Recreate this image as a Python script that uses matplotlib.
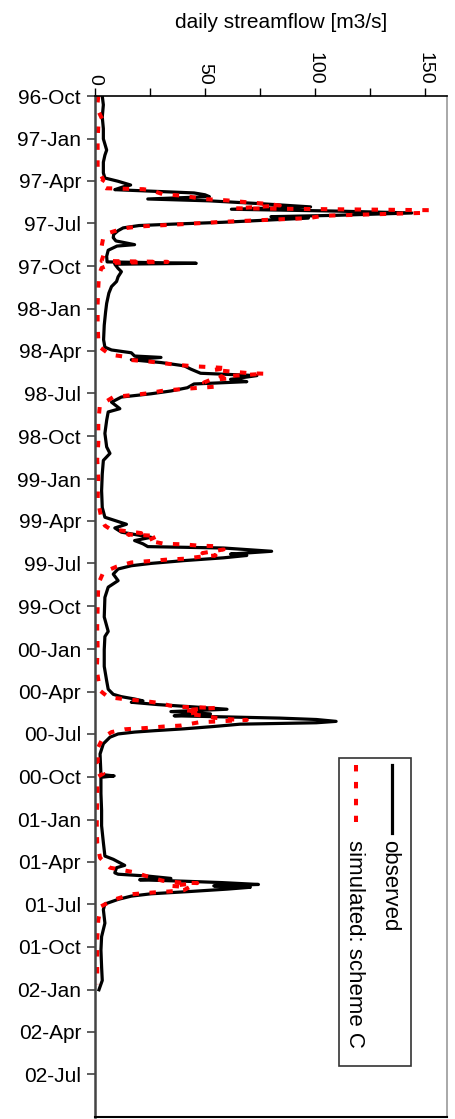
import matplotlib
matplotlib.use("Agg")
import matplotlib.pyplot as plt
import matplotlib.dates as mdates
from matplotlib.ticker import MultipleLocator, FixedLocator
from matplotlib.patches import Rectangle
import pandas as pd

plt.rcParams['font.family'] = ['Liberation Sans', 'DejaVu Sans']

# observed daily streamflow [m3/s]
obs_dates = [
    '1996-10-01', '1996-10-20', '1996-11-15', '1996-12-10', '1997-01-01', '1997-01-25',
    '1997-02-05', '1997-02-20', '1997-03-15', '1997-03-26', '1997-04-02', '1997-04-10',
    '1997-04-14', '1997-04-20', '1997-04-24', '1997-04-27', '1997-05-01', '1997-05-05',
    '1997-05-10', '1997-05-14', '1997-05-20', '1997-05-27', '1997-06-01', '1997-06-05',
    '1997-06-09', '1997-06-14', '1997-06-17', '1997-06-20', '1997-06-25', '1997-06-29',
    '1997-07-03', '1997-07-06', '1997-07-11', '1997-07-17', '1997-07-25', '1997-08-01',
    '1997-08-08', '1997-08-16', '1997-08-19', '1997-08-28', '1997-09-10', '1997-09-22',
    '1997-09-25', '1997-09-27', '1997-10-06', '1997-10-13', '1997-10-24', '1997-11-03',
    '1997-11-14', '1997-11-28', '1997-12-20', '1998-01-08', '1998-02-05', '1998-03-08',
    '1998-03-24', '1998-03-30', '1998-04-05', '1998-04-12', '1998-04-15', '1998-04-20',
    '1998-04-26', '1998-05-03', '1998-05-10', '1998-05-19', '1998-05-24', '1998-06-01',
    '1998-06-06', '1998-06-11', '1998-06-19', '1998-06-26', '1998-07-02', '1998-07-09',
    '1998-07-20', '1998-08-03', '1998-08-10', '1998-08-28', '1998-09-25', '1998-10-24',
    '1998-11-07', '1998-11-22', '1998-12-21', '1999-01-26', '1999-03-03', '1999-03-24',
    '1999-04-01', '1999-04-08', '1999-04-16', '1999-04-25', '1999-05-06', '1999-05-13',
    '1999-05-20', '1999-05-26', '1999-05-29', '1999-06-05', '1999-06-11', '1999-06-14',
    '1999-06-19', '1999-06-25', '1999-07-01', '1999-07-06', '1999-07-13', '1999-07-24',
    '1999-08-07', '1999-08-21', '1999-09-12', '1999-10-24', '1999-11-24', '1999-12-05',
    '2000-01-02', '2000-02-07', '2000-03-09', '2000-03-27', '2000-04-07', '2000-04-12',
    '2000-04-17', '2000-04-21', '2000-04-24', '2000-04-29', '2000-05-04', '2000-05-09',
    '2000-05-14', '2000-05-19', '2000-05-23', '2000-05-28', '2000-05-31', '2000-06-04',
    '2000-06-07', '2000-06-10', '2000-06-15', '2000-06-20', '2000-06-24', '2000-06-27',
    '2000-07-01', '2000-07-08', '2000-07-22', '2000-08-13', '2000-09-26', '2000-09-29',
    '2000-10-02', '2000-11-06', '2000-12-12', '2001-01-14', '2001-02-19', '2001-03-20',
    '2001-03-27', '2001-04-09', '2001-04-14', '2001-04-25', '2001-04-28', '2001-05-02',
    '2001-05-07', '2001-05-10', '2001-05-13', '2001-05-16', '2001-05-20', '2001-05-23',
    '2001-05-26', '2001-05-30', '2001-06-04', '2001-06-09', '2001-06-14', '2001-06-21',
    '2001-07-01', '2001-07-13', '2001-08-11', '2001-09-09', '2001-10-08', '2001-11-13',
    '2001-12-12', '2002-01-01',
]
obs_flow = [
    3.3, 3.8, 3.3, 3.8, 3.8, 5.3,
    4.5, 3.8, 3.8, 4.5, 10.5, 16.2,
    12.8, 9.0, 30.0, 45.0, 50.0, 52.0,
    24.0, 52.0, 75.0, 98.0, 62.0, 110.0,
    144.0, 110.0, 80.0, 97.0, 75.0, 58.0,
    35.0, 20.0, 12.8, 10.5, 8.5, 8.3,
    9.5, 18.0, 10.0, 6.0, 5.3, 5.5,
    46.0, 9.0, 10.5, 12.0, 10.5, 9.8,
    7.5, 6.3, 5.3, 4.8, 4.2, 3.9,
    4.5, 7.5, 16.5, 18.0, 30.0, 16.5,
    30.0, 40.5, 43.5, 48.0, 73.6, 61.6,
    69.0, 45.0, 42.0, 34.5, 25.5, 12.0,
    7.5, 11.3, 6.0, 5.3, 4.5, 5.3,
    6.8, 3.8, 3.3, 3.0, 3.3, 4.5,
    9.8, 14.3, 9.0, 12.0, 25.5, 18.0,
    21.8, 24.0, 58.5, 80.3, 61.6, 69.0,
    58.5, 40.5, 25.5, 16.5, 10.5, 8.3,
    10.5, 6.0, 4.5, 4.2, 6.0, 4.5,
    4.2, 4.2, 5.3, 6.0, 8.3, 12.0,
    18.0, 21.8, 16.5, 28.5, 45.0, 60.0,
    34.5, 52.5, 36.0, 84.0, 100.6, 109.6,
    100.6, 66.0, 54.0, 40.5, 27.0, 18.0,
    10.5, 6.8, 3.8, 2.3, 2.7, 8.7,
    2.7, 2.7, 3.0, 3.0, 3.8, 4.5,
    8.3, 13.5, 9.8, 9.0, 10.5, 24.0,
    34.5, 20.3, 40.5, 57.8, 74.3, 54.0,
    70.6, 60.0, 43.5, 25.5, 16.5, 10.5,
    4.5, 3.8, 4.5, 3.0, 2.7, 3.0,
    3.3, 1.8,
]

# simulated streamflow, scheme C
sim_dates = [
    '1996-10-01', '1996-10-15', '1996-11-05', '1996-11-25', '1996-12-05', '1997-01-01',
    '1997-02-01', '1997-03-05', '1997-03-30', '1997-04-10', '1997-04-17', '1997-04-19',
    '1997-04-22', '1997-04-30', '1997-05-03', '1997-05-06', '1997-05-10', '1997-05-13',
    '1997-05-17', '1997-05-20', '1997-05-24', '1997-05-30', '1997-06-03', '1997-06-09',
    '1997-06-15', '1997-06-20', '1997-06-28', '1997-07-03', '1997-07-08', '1997-07-12',
    '1997-07-21', '1997-07-31', '1997-08-20', '1997-09-05', '1997-09-20', '1997-09-22',
    '1997-09-24', '1997-10-05', '1997-10-20', '1997-11-15', '1997-12-20', '1998-02-01',
    '1998-03-10', '1998-03-24', '1998-04-09', '1998-04-13', '1998-04-20', '1998-04-24',
    '1998-05-01', '1998-05-04', '1998-05-06', '1998-05-08', '1998-05-12', '1998-05-19',
    '1998-05-20', '1998-05-26', '1998-05-30', '1998-06-02', '1998-06-08', '1998-06-17',
    '1998-06-20', '1998-06-25', '1998-07-01', '1998-07-05', '1998-07-09', '1998-07-27',
    '1998-09-01', '1998-10-15', '1998-11-20', '1999-01-01', '1999-02-15', '1999-03-28',
    '1999-04-11', '1999-04-18', '1999-04-22', '1999-04-27', '1999-04-30', '1999-05-03',
    '1999-05-13', '1999-05-20', '1999-05-21', '1999-05-24', '1999-05-25', '1999-06-01',
    '1999-06-07', '1999-06-09', '1999-06-14', '1999-06-17', '1999-06-21', '1999-06-23',
    '1999-06-26', '1999-06-29', '1999-07-08', '1999-07-20', '1999-08-14', '1999-10-01',
    '1999-11-15', '2000-01-01', '2000-02-15', '2000-03-30', '2000-04-13', '2000-04-17',
    '2000-04-21', '2000-04-26', '2000-05-01', '2000-05-04', '2000-05-06', '2000-05-11',
    '2000-05-14', '2000-05-19', '2000-05-23', '2000-05-28', '2000-05-31', '2000-06-01',
    '2000-06-06', '2000-06-13', '2000-06-15', '2000-06-18', '2000-06-21', '2000-06-27',
    '2000-07-08', '2000-07-29', '2000-09-01', '2000-09-24', '2000-10-01', '2000-11-20',
    '2001-01-10', '2001-02-20', '2001-03-24', '2001-04-03', '2001-04-14', '2001-04-24',
    '2001-05-02', '2001-05-05', '2001-05-12', '2001-05-16', '2001-05-17', '2001-05-23',
    '2001-05-26', '2001-06-01', '2001-06-04', '2001-06-06', '2001-06-10', '2001-06-21',
    '2001-07-06', '2001-08-04', '2001-09-15', '2001-11-01', '2001-12-20',
]
sim_flow = [
    1.5, 1.2, 1.8, 3.8, 1.5, 1.2,
    1.2, 1.2, 3.8, 2.2, 5.0, 22.0,
    26.0, 31.0, 40.0, 44.0, 49.0, 60.0,
    69.0, 77.0, 84.0, 64.0, 152.0, 148.0,
    104.0, 97.0, 58.0, 40.0, 20.0, 13.0,
    6.8, 3.8, 3.0, 4.0, 3.0, 33.0,
    9.0, 3.0, 1.8, 1.5, 1.2, 1.2,
    1.5, 2.2, 6.8, 12.8, 15.0, 25.0,
    37.5, 45.0, 53.0, 60.0, 54.0, 70.6,
    77.3, 57.0, 61.6, 52.5, 49.5, 54.0,
    45.0, 31.5, 24.0, 16.5, 8.3, 2.2,
    1.5, 1.5, 1.0, 1.5, 1.2, 3.0,
    4.5, 6.8, 12.8, 21.0, 15.0, 28.5,
    24.0, 31.5, 39.8, 47.3, 54.8, 58.5,
    51.0, 48.8, 54.8, 47.3, 40.5, 32.3,
    24.8, 16.5, 9.8, 3.8, 1.5, 1.2,
    1.0, 1.2, 0.8, 2.3, 6.0, 12.8,
    21.8, 30.0, 33.8, 39.0, 54.8, 40.5,
    48.0, 42.0, 49.5, 55.6, 63.0, 69.0,
    47.3, 39.0, 31.5, 24.0, 13.5, 7.5,
    3.8, 1.5, 1.2, 3.8, 1.2, 1.0,
    0.8, 1.0, 2.3, 4.5, 6.8, 18.0,
    23.3, 25.5, 30.8, 39.0, 46.5, 34.5,
    42.8, 40.5, 33.8, 27.0, 16.5, 9.0,
    2.7, 1.5, 1.0, 1.0, 1.0,
]

# quarterly tick marks shown on the time axis
tick_dates = pd.date_range('1996-10-01', '2002-07-01', freq='QS-JAN')

obs_t = pd.to_datetime(obs_dates)
sim_t = pd.to_datetime(sim_dates)

fig = plt.figure(figsize=(4.56, 11.19), dpi=100)
ax = fig.add_axes([95 / 456, 2 / 1119, 352 / 456, 1021 / 1119])

ax.plot(obs_flow, obs_t, color='black', lw=2.3, solid_joinstyle='round')
ax.plot(sim_flow, sim_t, color='red', lw=2.9, dashes=(1.6, 2.6))

# time runs downwards, flow axis on top
ax.set_ylim(pd.Timestamp('2002-10-01'), pd.Timestamp('1996-10-01'))
ax.set_xlim(0, 160)
ax.yaxis.set_major_locator(FixedLocator(mdates.date2num(tick_dates)))
ax.yaxis.set_major_formatter(mdates.DateFormatter('%y-%b'))
ax.xaxis.tick_top()
ax.xaxis.set_major_locator(MultipleLocator(50))
ax.xaxis.set_minor_locator(MultipleLocator(25))
ax.tick_params(axis='x', which='both', direction='out', length=6, width=1,
               labelsize=14, labelrotation=-90, pad=2)
ax.tick_params(axis='y', direction='out', length=6, width=1.2, color='#444',
               labelsize=15, pad=4)

ax.spines['left'].set_linewidth(1.8)
ax.spines['left'].set_color('#444')
ax.spines['top'].set_linewidth(1.2)
ax.spines['right'].set_color('#999')
ax.spines['right'].set_linewidth(1.2)
ax.spines['bottom'].set_linewidth(1.5)

fig.text(175 / 456, 1 - 22 / 1119, 'daily streamflow [m3/s]', fontsize=15,
         ha='left', va='center')

# legend, drawn rotated like the rest of the chart
ax.add_patch(Rectangle((0.693, 0.050), 0.205, 0.302, transform=ax.transAxes,
                       facecolor='white', edgecolor='#333', lw=1.2, zorder=5))
ax.plot([0.844, 0.844], [0.345, 0.278], transform=ax.transAxes,
        color='black', lw=2.3, zorder=6)
ax.plot([0.741, 0.741], [0.345, 0.289], transform=ax.transAxes,
        color='red', lw=2.9, dashes=(1.6, 2.6), zorder=6)
ax.text(0.838, 0.271, 'observed', transform=ax.transAxes, rotation=-90,
        ha='center', va='top', fontsize=16, zorder=6)
ax.text(0.736, 0.271, 'simulated: scheme C', transform=ax.transAxes, rotation=-90,
        ha='center', va='top', fontsize=16, zorder=6)

fig.savefig('out.png', dpi=100)
